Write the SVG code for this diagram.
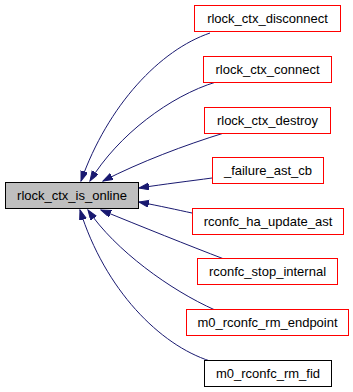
<svg xmlns="http://www.w3.org/2000/svg" width="353" height="392" viewBox="0 0 353 392">
  <style>
    text { font-family: "Liberation Sans", Arial, sans-serif; font-size: 13px; fill: #000000; text-anchor: middle; }
    .edge { fill: none; stroke: #191970; stroke-width: 1; marker-end: url(#arrow); }
  </style>
  <defs>
    <marker id="arrow" markerUnits="userSpaceOnUse" markerWidth="11" markerHeight="8" refX="10" refY="3.5" orient="auto">
      <path d="M0,0 L10,3.5 L0,7 z" fill="#191970" stroke="#191970"/>
    </marker>
  </defs>

  <!-- call edges: caller -> rlock_ctx_is_online -->
  <g id="edges">
    <path class="edge" d="M210,33 C160,50 108,105 81,181"/>
    <path class="edge" d="M216,82 C170,96 118,135 90,181"/>
    <path class="edge" d="M224,133 C185,145 140,162 103,181"/>
    <path class="edge" d="M212,178 C190,181 165,184 139,188"/>
    <path class="edge" d="M192,213 C178,210 160,206 139,202"/>
    <path class="edge" d="M224,259 C190,246 140,226 101,210"/>
    <path class="edge" d="M215,310 C170,290 115,250 88,210"/>
    <path class="edge" d="M210,361 C160,345 105,290 80,210"/>
  </g>

  <g id="rlock_ctx_is_online">
    <rect x="5.5" y="182.5" width="133" height="26" fill="#bfbfbf" stroke="#000000"/>
    <text x="72" y="200">rlock_ctx_is_online</text>
  </g>

  <g id="rlock_ctx_disconnect">
    <rect x="194.5" y="5.5" width="146" height="26" fill="#ffffff" stroke="#ff0000"/>
    <text x="267.5" y="23">rlock_ctx_disconnect</text>
  </g>
  <g id="rlock_ctx_connect">
    <rect x="203.5" y="56.5" width="128" height="26" fill="#ffffff" stroke="#ff0000"/>
    <text x="267.5" y="74">rlock_ctx_connect</text>
  </g>
  <g id="rlock_ctx_destroy">
    <rect x="204.5" y="107.5" width="126" height="26" fill="#ffffff" stroke="#ff0000"/>
    <text x="267.5" y="125">rlock_ctx_destroy</text>
  </g>
  <g id="_failure_ast_cb">
    <rect x="212.5" y="157.5" width="111" height="26" fill="#ffffff" stroke="#ff0000"/>
    <text x="268" y="175">_failure_ast_cb</text>
  </g>
  <g id="rconfc_ha_update_ast">
    <rect x="192.5" y="208.5" width="151" height="26" fill="#ffffff" stroke="#ff0000"/>
    <text x="268" y="226">rconfc_ha_update_ast</text>
  </g>
  <g id="rconfc_stop_internal">
    <rect x="197.5" y="258.5" width="140" height="26" fill="#ffffff" stroke="red"/>
    <text x="267.5" y="276">rconfc_stop_internal</text>
  </g>
  <g id="m0_rconfc_rm_endpoint">
    <rect x="186.5" y="309.5" width="162" height="26" fill="#ffffff" stroke="#ff0000"/>
    <text x="267.5" y="327">m0_rconfc_rm_endpoint</text>
  </g>
  <g id="m0_rconfc_rm_fid">
    <rect x="204.5" y="360.5" width="127" height="26" fill="#ffffff" stroke="#000000"/>
    <text x="268" y="378">m0_rconfc_rm_fid</text>
  </g>
</svg>
